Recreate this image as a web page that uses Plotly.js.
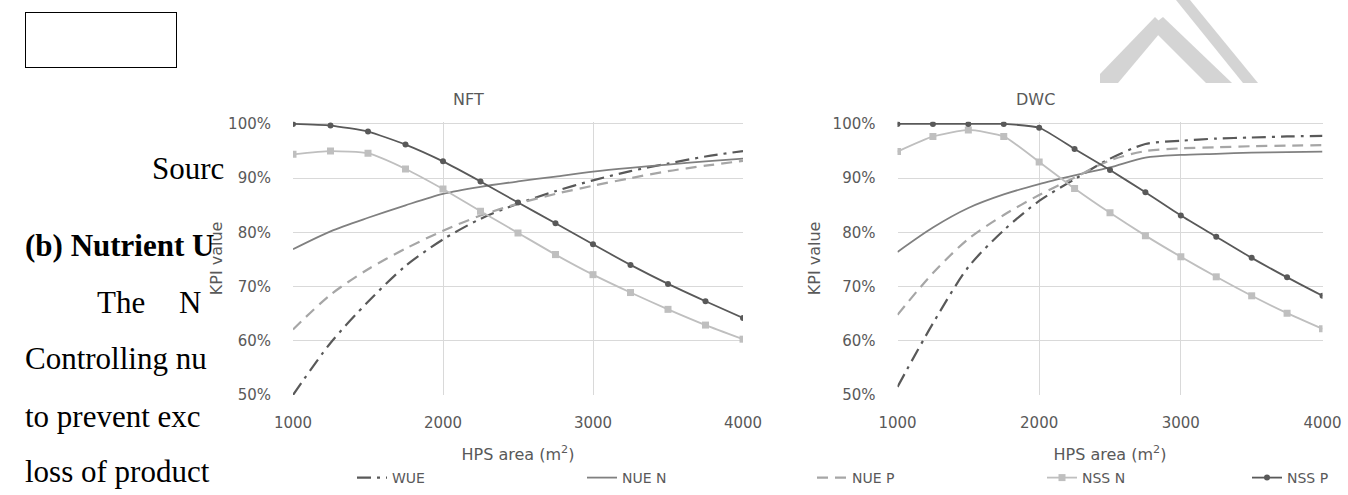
<!DOCTYPE html>
<html><head><meta charset="utf-8">
<script src="https://cdn.plot.ly/plotly-3.0.1.min.js"></script>
<style>
html,body{margin:0;padding:0;background:#fff;}
#wrap{position:relative;width:1348px;height:495px;}
#chart{position:absolute;left:0;top:0;width:1348px;height:495px;}
#doc{position:absolute;left:0;top:0;width:230px;height:495px;pointer-events:none;z-index:2;
  font-family:'Liberation Serif','Times New Roman',serif;font-size:31px;color:#000;}
#doc div.l{position:absolute;white-space:nowrap;line-height:36px;height:36px;}
#doc div.box{position:absolute;left:25px;top:12px;width:150px;height:54px;border:1.5px solid #000;}
</style>
</head><body><div id="wrap"><div id="chart"></div><div id="doc"></div></div>
<script>
// ---- data ----
const hpsArea = [1000,1250,1500,1750,2000,2250,2500,2750,3000,3250,3500,3750,4000];
const nftWUE  = [50.0,59.6,67.2,73.8,78.7,82.5,85.3,87.6,89.6,91.3,92.7,94.0,95.0];
const nftNUEN = [76.9,80.2,82.7,85.0,87.1,88.4,89.4,90.3,91.2,91.9,92.5,93.1,93.6];
const nftNUEP = [62.1,68.5,73.2,77.0,80.3,83.1,85.3,87.1,88.6,90.0,91.3,92.3,93.2];
const nftNSSN = [94.4,95.0,94.6,91.7,88.0,83.9,79.9,75.9,72.2,68.9,65.8,62.9,60.3];
const nftNSSP = [100,99.7,98.6,96.2,93.1,89.4,85.5,81.7,77.8,74.0,70.5,67.3,64.2];
const dwcWUE  = [51.5,63.2,73.6,80.4,85.8,89.8,93.6,96.3,96.9,97.3,97.5,97.7,97.8];
const dwcNUEN = [76.4,80.9,84.5,87.0,88.9,90.5,92.0,93.8,94.3,94.5,94.7,94.8,94.9];
const dwcNUEP = [64.8,72.5,78.8,83.2,86.9,90.1,93.3,95.0,95.5,95.7,95.9,96.0,96.1];
const dwcNSSN = [94.9,97.7,98.9,97.7,93.0,88.1,83.6,79.4,75.5,71.8,68.3,65.1,62.2];
const dwcNSSP = [100,100,100,100,99.3,95.4,91.5,87.4,83.1,79.2,75.3,71.7,68.3];
const seriesNames = ['WUE','NUE N','NUE P','NSS N','NSS P'];
const panelTitles = ['NFT','DWC'];
const yTicks = [50,60,70,80,90,100];
const yTickLabels = ['50%','60%','70%','80%','90%','100%'];
const xTicks = [1000,2000,3000,4000];
const xTickLabels = ['1000','2000','3000','4000'];
const docLines = ['Sourc','(b) Nutrient U','The N','Controlling nu','to prevent exc','loss of product'];

// ---- document text behind the chart ----
const docPos = [[152,170,false,0],[25,247,true,0],[97,304,false,26],[25,360,false,0],[25,418,false,0],[25,473,false,0]];
const doc = document.getElementById('doc');
const box = document.createElement('div'); box.className = 'box'; doc.appendChild(box);
docLines.forEach((t, i) => {
  const d = document.createElement('div'); d.className = 'l';
  d.style.left = docPos[i][0] + 'px'; d.style.top = (docPos[i][1] - 19) + 'px';
  if (docPos[i][2]) d.style.fontWeight = 'bold';
  if (docPos[i][3]) d.style.wordSpacing = docPos[i][3] + 'px';
  d.textContent = t; doc.appendChild(d);
});

// ---- styles ----
const W = 1348, H = 495;
const px = v => v / W, py = v => 1 - v / H;
const styles = {
  'WUE':   {line:{color:'#595959', width:2.2, dash:'14px,6px,3px,6px', shape:'spline', smoothing:0.8}, mode:'lines'},
  'NUE N': {line:{color:'#808080', width:1.8, shape:'spline', smoothing:0.8}, mode:'lines'},
  'NUE P': {line:{color:'#a6a6a6', width:2.2, dash:'11px,7px', shape:'spline', smoothing:0.8}, mode:'lines'},
  'NSS N': {line:{color:'#bfbfbf', width:1.8, shape:'spline', smoothing:0.5}, mode:'lines+markers', marker:{symbol:'square', size:7, color:'#bfbfbf'}},
  'NSS P': {line:{color:'#595959', width:1.8, shape:'spline', smoothing:0.5}, mode:'lines+markers', marker:{symbol:'circle', size:6, color:'#595959'}}
};
const panels = [
  {xa:'x',  ya:'y',  data:[nftWUE,nftNUEN,nftNUEP,nftNSSN,nftNSSP]},
  {xa:'x2', ya:'y2', data:[dwcWUE,dwcNUEN,dwcNUEP,dwcNSSN,dwcNSSP]}
];
const traces = [];
panels.forEach((p, pi) => {
  seriesNames.forEach((n, si) => {
    const s = styles[n];
    traces.push(Object.assign({
      type:'scatter', x:hpsArea, y:p.data[si], name:n, xaxis:p.xa, yaxis:p.ya,
      legendgroup:n, showlegend: pi === 0, legend: si === 4 ? 'legend2' : 'legend',
      hoverinfo:'x+y+name'
    }, JSON.parse(JSON.stringify(s))));
  });
});

const txt = '#595959';
const tickFont = {family:'DejaVu Sans', size:15, color:txt};
function xAxis(dom, anchor){
  return {domain:dom, anchor:anchor, range:[1000,4000], tickvals:xTicks, ticktext:xTickLabels,
    showgrid:true, gridcolor:'#d9d9d9', gridwidth:1,
    zeroline:false, showline:false, ticks:'', tickfont:tickFont, ticklabelstandoff:17, fixedrange:true,
    title:{text:'HPS area (m<sup>2</sup>)', font:{family:'DejaVu Sans', size:16, color:txt}, standoff:17}};
}
function yAxis(anchor, standoff){
  return {domain:[py(395), py(121.8)], range:[50,100.4], tickvals:yTicks, ticktext:yTickLabels, anchor:anchor,
    showgrid:true, gridcolor:'#d9d9d9', gridwidth:1, zeroline:false, showline:false, ticks:'',
    tickfont:tickFont, ticklabelstandoff:21, fixedrange:true,
    title:{text:'KPI value', font:{family:'DejaVu Sans', size:16, color:txt}, standoff:standoff}};
}

const annotations = [
  {text:panelTitles[0], x:px(468), y:py(88), xref:'paper', yref:'paper', showarrow:false, font:{family:'DejaVu Sans', size:16, color:txt}},
  {text:panelTitles[1], x:px(1057), y:py(88), xref:'paper', yref:'paper', showarrow:false, font:{family:'DejaVu Sans', size:16, color:txt}}
];

function poly(pts){ return 'M' + pts.map(p => px(p[0]).toFixed(5) + ',' + py(p[1]).toFixed(5)).join(' L') + ' Z'; }
const wm = '#d4d4d4';
const shapes = [
  {type:'path', xref:'paper', yref:'paper', path:poly([[1100,83],[1100,74],[1155,17],[1165,27],[1118,83]]), fillcolor:wm, line:{width:0}},
  {type:'path', xref:'paper', yref:'paper', path:poly([[1150,27],[1163,17],[1232,83],[1206,83]]), fillcolor:wm, line:{width:0}},
  {type:'path', xref:'paper', yref:'paper', path:poly([[1176,0],[1190,0],[1258,83],[1243,83]]), fillcolor:wm, line:{width:0}}
];

const legendFont = {family:'DejaVu Sans', size:14, color:txt};
const layout = {
  width:W, height:H, margin:{l:0,r:0,t:0,b:0,autoexpand:false}, paper_bgcolor:'#fff', plot_bgcolor:'#fff',
  showlegend:true,
  legend:{orientation:'h', x:px(352), y:py(478), xanchor:'left', yanchor:'middle',
    entrywidth:185, entrywidthmode:'pixels', font:legendFont, bgcolor:'rgba(0,0,0,0)'},
  legend2:{orientation:'h', x:px(1247), y:py(478), xanchor:'left', yanchor:'middle',
    font:legendFont, bgcolor:'rgba(0,0,0,0)'},
  xaxis:xAxis([px(293), px(743)], 'y'),
  yaxis:yAxis('x', 1),
  xaxis2:xAxis([px(897.5), px(1322.5)], 'y2'),
  yaxis2:yAxis('x2', 8),
  annotations:annotations, shapes:shapes
};
Plotly.newPlot('chart', traces, layout, {displayModeBar:false, responsive:false});
</script></body></html>
